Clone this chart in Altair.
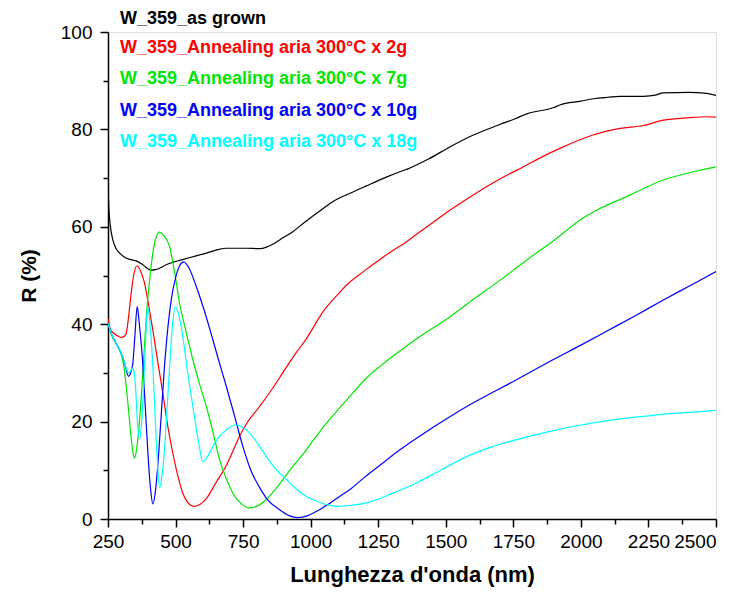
import altair as alt
import pandas as pd

# ---------------- data ----------------
names = [
    "W_359_as grown",
    "W_359_Annealing aria 300°C x 2g",
    "W_359_Annealing aria 300°C x 7g",
    "W_359_Annealing aria 300°C x 10g",
    "W_359_Annealing aria 300°C x 18g",
]
colors = ["#000000", "#ff0000", "#00e600", "#0000ff", "#00ffff"]

wl_grown = [250, 253, 258, 268, 280, 293, 310, 330, 354, 379, 395, 410, 425, 441, 465, 490,
            515, 560, 614, 650, 688, 760, 811, 840, 860, 885, 934, 984, 1040, 1083, 1150,
            1206, 1280, 1340, 1360, 1439, 1515, 1600, 1700, 1757, 1800, 1900, 1922, 2000,
            2047, 2100, 2144, 2231, 2280, 2305, 2400, 2466, 2500]
r_grown = [68, 64, 60.5, 57.3, 55.5, 54.6, 53.8, 53.3, 53.0, 52.2, 51.5, 51.1, 51.2, 51.5,
           52.2, 52.7, 53.1, 53.8, 54.6, 55.2, 55.6, 55.6, 55.5, 55.9, 56.4, 57.3, 59.0, 61.2,
           63.5, 65.2, 67.0, 68.4, 70.2, 71.5, 71.9, 74.0, 76.4, 78.8, 81.0, 82.2, 83.2, 84.5,
           85.0, 85.8, 86.3, 86.6, 86.8, 86.8, 87.1, 87.5, 87.6, 87.4, 87.0]

wl_2g = [250, 258, 268, 285, 299, 310, 317, 325, 335, 345, 357, 370, 385, 400, 416, 435, 453,
         470, 490, 510, 527, 545, 567, 590, 614, 650, 688, 737, 762, 811, 860, 900, 947, 984,
         1046, 1107, 1132, 1200, 1256, 1300, 1354, 1400, 1450, 1515, 1600, 1700, 1800, 1847,
         1922, 2042, 2144, 2231, 2305, 2400, 2466, 2500]
r_2g = [41.2, 39.0, 38.3, 37.6, 37.3, 37.5, 38.0, 41.0, 46.0, 50.0, 52.0, 51.0, 48.5, 44.0,
        38.8, 32.0, 25.8, 19.5, 13.5, 8.5, 5.3, 3.4, 2.6, 3.0, 4.2, 7.5, 11.0, 17.0, 19.5,
        23.1, 26.9, 30.3, 34.2, 37.0, 42.6, 46.5, 48.0, 51.0, 53.3, 55.0, 56.9, 58.8, 60.8,
        63.4, 66.5, 69.8, 72.7, 74.1, 76.1, 78.8, 80.2, 80.8, 81.9, 82.4, 82.6, 82.5]

wl_7g = [250, 265, 280, 293, 305, 315, 325, 335, 343, 348, 355, 367, 380, 391, 403, 416, 428,
         441, 455, 478, 497, 515, 540, 564, 590, 614, 640, 663, 690, 712, 740, 771, 800, 836,
         880, 934, 980, 1021, 1060, 1107, 1150, 1200, 1260, 1330, 1400, 1515, 1600, 1700,
         1800, 1900, 2000, 2058, 2169, 2305, 2416, 2500]
r_7g = [40.2, 37.5, 36.0, 34.7, 32.5, 28.5, 23.0, 17.0, 13.5, 12.5, 14.0, 20.4, 31.0, 40.9,
        48.5, 54.6, 57.8, 58.9, 58.3, 55.9, 50.5, 44.3, 38.2, 32.7, 27.5, 23.1, 17.5, 12.2,
        8.0, 5.3, 3.3, 2.3, 2.6, 4.0, 6.8, 10.8, 13.9, 17.0, 19.8, 22.8, 25.5, 28.6, 31.5,
        34.5, 37.3, 41.5, 45.0, 49.0, 53.2, 57.2, 61.5, 63.4, 66.2, 69.6, 71.3, 72.3]

wl_10g = [250, 265, 280, 293, 305, 316, 326, 334, 342, 350, 358, 366, 375, 387, 397, 407, 416,
          425, 434, 446, 459, 471, 484, 500, 515, 530, 550, 577, 608, 638, 660, 688, 720, 749,
          780, 811, 840, 885, 920, 953, 990, 1033, 1070, 1107, 1144, 1200, 1260, 1330, 1400,
          1515, 1600, 1762, 1900, 2000, 2100, 2200, 2300, 2400, 2500]
r_10g = [40.2, 37.8, 36.1, 34.7, 33.2, 31.0, 29.3, 30.0, 32.0, 38.0, 43.6, 40.0, 34.7, 24.0,
         14.2, 6.5, 3.1, 5.5, 10.8, 20.5, 31.3, 39.0, 45.0, 49.5, 52.0, 52.8, 51.5, 47.7,
         42.5, 36.8, 32.5, 27.2, 20.8, 14.9, 9.8, 6.5, 4.0, 1.9, 0.7, 0.3, 0.7, 1.9, 3.2,
         4.6, 6.0, 8.6, 11.2, 14.2, 16.9, 21.0, 23.8, 28.6, 32.8, 35.7, 38.7, 41.7, 44.8,
         47.8, 50.8]

wl_18g = [250, 265, 280, 293, 305, 316, 326, 334, 340, 346, 352, 360, 367, 374, 385, 391, 397,
          404, 416, 428, 441, 450, 459, 470, 478, 489, 499, 510, 521, 545, 570, 586, 601, 618,
          638, 660, 688, 722, 762, 800, 836, 870, 910, 950, 984, 1021, 1070, 1107, 1150, 1206,
          1300, 1391, 1480, 1577, 1670, 1762, 1885, 2000, 2100, 2200, 2300, 2400, 2500]
r_18g = [40.2, 37.8, 36.1, 34.7, 33.2, 31.2, 30.0, 30.4, 31.0, 30.5, 27.0, 19.0, 16.4, 19.5,
         31.3, 39.0, 43.6, 41.0, 31.3, 17.0, 6.4, 9.0, 14.2, 24.0, 31.3, 40.0, 43.5, 42.3,
         39.5, 30.0, 21.0, 15.5, 11.8, 12.8, 14.9, 16.8, 18.3, 19.3, 18.3, 15.8, 12.8, 10.3,
         8.1, 6.0, 4.6, 3.7, 2.8, 2.6, 2.8, 3.3, 5.2, 7.4, 10.0, 12.8, 14.8, 16.3, 18.0, 19.3,
         20.2, 20.9, 21.5, 21.9, 22.3]

# major + minor tick values (minor ones carry no label)
x_ticks = [250, 375, 500, 625, 750, 875, 1000, 1125, 1250, 1375, 1500, 1625, 1750, 1875,
           2000, 2125, 2250, 2375, 2500]
y_ticks = [0, 10, 20, 30, 40, 50, 60, 70, 80, 90, 100]

# ---------------- table ----------------
series = [(wl_grown, r_grown), (wl_2g, r_2g), (wl_7g, r_7g), (wl_10g, r_10g), (wl_18g, r_18g)]
rows = []
for i, (w, r) in enumerate(series):
    for a, b in zip(w, r):
        rows.append({"wl": a, "R": b, "series": names[i], "order": i})
df = pd.DataFrame(rows)

FONT = "Liberation Sans"
xs = alt.Scale(domain=[250, 2500], nice=False, zero=False)
ys = alt.Scale(domain=[0, 100], nice=False)

lines = alt.Chart(df).mark_line(strokeWidth=1.2, interpolate="monotone", clip=True).encode(
    x=alt.X("wl:Q", scale=xs, axis=alt.Axis(
        values=x_ticks, title="Lunghezza d'onda (nm)", orient="bottom",
        labelExpr="datum.value % 250 === 0 ? format(datum.value, 'd') : ''",
        grid=False,
        tickSize={"condition": {"test": "datum.value % 250 === 0", "value": 8}, "value": 5},
        labelAlign={"condition": {"test": "datum.value === 2500", "value": "right"}, "value": "center"},
        tickWidth=1.5, domainWidth=1.5,
        domainColor="black", tickColor="black",
        labelFont=FONT, labelFontSize=19, labelColor="black", labelPadding=5,
        titleFont=FONT, titleFontSize=22, titleFontWeight="bold", titleColor="black",
        titlePadding=13, labelFlush=False)),
    y=alt.Y("R:Q", scale=ys, axis=alt.Axis(
        values=y_ticks, title="R (%)", orient="left",
        labelExpr="datum.value % 20 === 0 ? format(datum.value, 'd') : ''",
        grid=False,
        tickSize={"condition": {"test": "datum.value % 20 === 0", "value": 8}, "value": 5},
        tickWidth=1.5, domainWidth=1.5,
        domainColor="black", tickColor="black",
        labelFont=FONT, labelFontSize=19, labelColor="black", labelPadding=8,
        titleFont=FONT, titleFontSize=21, titleFontWeight="bold", titleColor="black",
        titlePadding=21, labelFlush=False)),
    color=alt.Color("series:N", scale=alt.Scale(domain=names, range=colors), legend=None),
    order=alt.Order("order:Q"),
)

label_y = [-13, 16, 47, 79, 110]
texts = []
for i, nm in enumerate(names):
    texts.append(
        alt.Chart(pd.DataFrame({"t": [nm]})).mark_text(
            align="left", baseline="middle", font=FONT, fontSize=18,
            fontWeight="bold", color=colors[i],
        ).encode(x=alt.value(12), y=alt.value(label_y[i]), text="t:N")
    )

chart = alt.layer(lines, *texts).properties(
    width=608, height=487,
    padding={"left": 100, "top": 24, "right": 16, "bottom": 69},
    autosize=alt.AutoSizeParams(type="none"),
).configure_view(stroke=None).configure(background="white")

chart.save("out.html", embed_options={"renderer": "svg", "actions": False})
